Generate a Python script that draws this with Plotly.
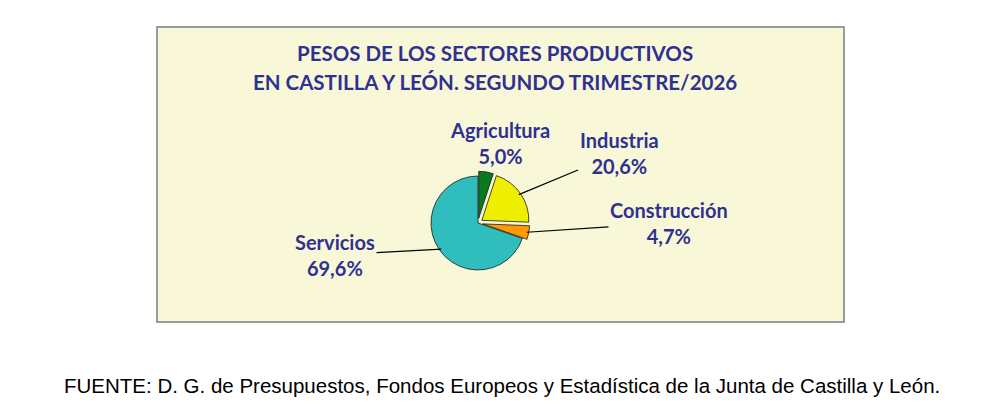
import math
import plotly.graph_objects as go

sectores = ["Agricultura", "Industria", "Construcción", "Servicios"]
pesos = [5.0, 20.6, 4.7, 69.6]
colores = ["#0A7A1E", "#EEEE00", "#FF9900", "#2FBDBD"]
separacion = [0.1, 0.1, 0.1, 0.0]

titulo = ["PESOS DE LOS SECTORES PRODUCTIVOS",
          "EN CASTILLA Y LEÓN. SEGUNDO TRIMESTRE/2026"]
fuente = "FUENTE: D. G. de Presupuestos, Fondos Europeos y Estadística de la Junta de Castilla y León."

# ventana 1002x417, la pagina deja 8px de margen en el body
W, H = 1002 - 16, 417 - 16
azul = "#2E3192"


def px(x):
    return (x - 8) / W


def py(y):
    return 1 - (y - 8) / H


# centro y radio de la tarta (pixeles de la ventana)
cx, cy, r = 478, 223, 47
lado = 2 * r * (1 + max(separacion))

fig = go.Figure()
fig.add_trace(go.Pie(
    labels=sectores,
    values=pesos,
    sort=False,
    direction="clockwise",
    rotation=0,
    pull=separacion,
    marker=dict(colors=colores, line=dict(color="#1a1a1a", width=0.8)),
    textinfo="none",
    domain=dict(x=[px(cx - lado / 2), px(cx + lado / 2)],
                y=[py(cy + lado / 2), py(cy - lado / 2)]),
    showlegend=False,
    hoverinfo="label+percent",
))

# recuadro del grafico
fig.add_shape(type="rect", xref="paper", yref="paper",
              x0=px(157), x1=px(844), y0=py(322), y1=py(27),
              fillcolor="#F8F8D8", line=dict(color="#708080", width=1.5),
              layer="below")

# etiquetas: posicion del texto y si lleva linea guia
pos_etiquetas = [(500, 143, False), (619, 153, True), (669, 223, True), (335, 255, True)]
total = sum(pesos)
acum = 0
for nombre, valor, pull, (lx, ly, guia) in zip(sectores, pesos, separacion, pos_etiquetas):
    ang = 2 * math.pi * (acum + valor / 2) / total
    acum += valor
    rr = r * (1 + pull) - 2
    tx, ty = cx + rr * math.sin(ang), cy - rr * math.cos(ang)
    texto = "<b>%s<br>%s%%</b>" % (nombre, ("%.1f" % valor).replace(".", ","))
    if guia:
        fig.add_annotation(text=texto, xref="paper", yref="paper",
                           x=px(tx), y=py(ty), ax=lx - tx, ay=ly - ty,
                           showarrow=True, arrowhead=0, arrowwidth=1.2,
                           arrowcolor="black", standoff=0,
                           xanchor="center", yanchor="middle",
                           font=dict(family="Lato", size=20, color=azul))
    else:
        fig.add_annotation(text=texto, xref="paper", yref="paper",
                           x=px(lx), y=py(ly), showarrow=False,
                           xanchor="center", yanchor="middle",
                           font=dict(family="Lato", size=20, color=azul))

for i, linea in enumerate(titulo):
    fig.add_annotation(text="<b>" + linea + "</b>", xref="paper", yref="paper",
                       x=px(495), y=py(53 + 29 * i), showarrow=False,
                       xanchor="center", yanchor="middle",
                       font=dict(family="Lato", size=20.5, color=azul))

fig.add_annotation(text=fuente, xref="paper", yref="paper",
                   x=px(502), y=py(385), showarrow=False,
                   xanchor="center", yanchor="middle",
                   font=dict(family="Liberation Sans", size=20.5, color="black"))

fig.update_layout(
    width=W, height=H,
    margin=dict(l=0, r=0, t=0, b=0),
    paper_bgcolor="white",
    separators=",.",
)

fig.write_html("out.html")
